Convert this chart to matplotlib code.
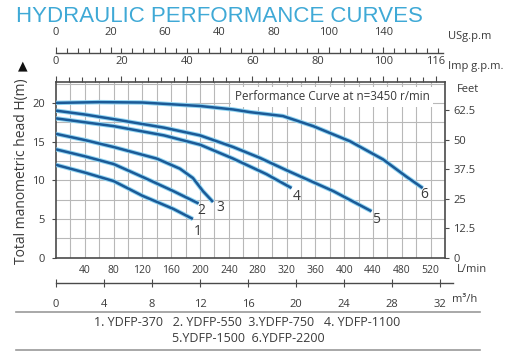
import numpy as np
import matplotlib
matplotlib.use("Agg")
import matplotlib.pyplot as plt
import matplotlib.patheffects as pe

# ---- data (flow in L/min, head in m) ----
q1 = [0, 40, 80, 120, 163, 190]
h1 = [12.0, 11.0, 9.9, 8.0, 6.3, 5.0]
q2 = [0, 40, 80, 121, 163, 198]
h2 = [14.0, 13.1, 12.1, 10.4, 8.6, 7.0]
q3 = [0, 40, 80, 140, 172, 190, 204, 218]
h3 = [16.0, 15.2, 14.3, 12.8, 11.5, 10.3, 8.6, 7.2]
q4 = [0, 40, 80, 150, 200, 246, 292, 327]
h4 = [18.0, 17.5, 17.0, 15.8, 14.6, 12.8, 10.8, 9.0]
q5 = [0, 40, 80, 150, 200, 246, 283, 320, 385, 438]
h5 = [19.0, 18.5, 17.9, 16.8, 15.8, 14.3, 12.9, 11.3, 8.6, 6.0]
q6 = [0, 60, 120, 200, 246, 270, 315, 357, 408, 454, 486, 509]
h6 = [20.0, 20.1, 20.05, 19.6, 19.15, 18.8, 18.3, 17.0, 15.05, 12.7, 10.5, 9.0]
curves = [(q1, h1, "1"), (q2, h2, "2"), (q3, h3, "3"),
          (q4, h4, "4"), (q5, h5, "5"), (q6, h6, "6")]
label_offsets = [(5, -13), (3, -7), (7, -6), (5, -8), (5, -8), (2, -6)]

lmin_ticks = [40, 80, 120, 160, 200, 240, 280, 320, 360, 400, 440, 480, 520]
m3h_ticks = [0, 4, 8, 12, 16, 20, 24, 28, 32]
imp_ticks = [0, 20, 40, 60, 80, 100, 116]
us_ticks = [0, 20, 40, 60, 80, 100, 120]
us_labels = ["0", "20", "60", "40", "80", "100", "140"]
head_ticks = [0, 5, 10, 15, 20]
feet_ticks = [0, 12.5, 25, 37.5, 50, 62.5]
legend_line1 = "1. YDFP-370   2. YDFP-550  3.YDFP-750   4. YDFP-1100"
legend_line2 = "5.YDFP-1500  6.YDFP-2200"

XMAX = 540.0
YMAX = 22.7
FONT = "Open Sans"
TXT = "#3a3a3a"

W, H = 512, 354
fig = plt.figure(figsize=(W / 100, H / 100), dpi=100)

def frac(x0, y0, x1, y1):
    return [x0 / W, 1 - y1 / H, (x1 - x0) / W, (y1 - y0) / H]

ax = fig.add_axes(frac(56, 82, 445, 257.7))
ax.set_xlim(0, XMAX)
ax.set_ylim(0, YMAX)
for v in np.arange(20, XMAX, 20):
    ax.axvline(v, color="#b8b8b8", lw=0.8, zorder=0)
for v in np.arange(2.5, YMAX, 2.5):
    ax.axhline(v, color="#b8b8b8", lw=0.8, zorder=0)
for s in ax.spines.values():
    s.set_color("#4a4a4a")
    s.set_linewidth(1.2)

halo = [pe.Stroke(linewidth=3.2, foreground="#8fd4f2"), pe.Normal()]
for (q, h, lab), off in zip(curves, label_offsets):
    ax.plot(q, h, color="#1b5a97", lw=1.8, solid_capstyle="butt",
            path_effects=halo, zorder=3)
    ax.annotate(lab, (q[-1], h[-1]), xytext=off, textcoords="offset pixels",
                ha="center", va="center", fontsize=10, color=TXT,
                family=FONT, zorder=4)

ax.text(0.46, 0.915, "Performance Curve at n=3450 r/min", transform=ax.transAxes,
        ha="left", va="center", fontsize=8.4, color=TXT, family=FONT,
        bbox=dict(facecolor="white", edgecolor="none", pad=2.5), zorder=5)

# bottom L/min
ax.set_xticks(lmin_ticks)
ax.set_xticklabels([str(t) for t in lmin_ticks])
ax.tick_params(axis="x", bottom=True, top=False, length=0, pad=5,
               labelsize=7.5, labelcolor=TXT)
ax.set_yticks(head_ticks)
ax.tick_params(axis="y", length=3, width=0.8, color="#4a4a4a", pad=5,
               labelsize=8, labelcolor=TXT)
for t in ax.get_xticklabels() + ax.get_yticklabels():
    t.set_family(FONT)

# right axis in feet
axr = ax.twinx()
axr.set_ylim(0, YMAX * 3.28084)
axr.set_yticks(feet_ticks)
axr.set_yticklabels(["0", "12.5", "25", "37.5", "50", "62.5"])
axr.tick_params(axis="y", length=3, width=0.8, color="#4a4a4a", pad=3,
                labelsize=8, labelcolor=TXT)
for t in axr.get_yticklabels():
    t.set_family(FONT)
for s in axr.spines.values():
    s.set_visible(False)
fig.text(468 / W, 1 - 89 / H, "Feet", ha="center", va="center", fontsize=8,
         color=TXT, family=FONT)

# top Imp g.p.m. on the top spine
imp = ax.secondary_xaxis("top", functions=(lambda x: x / 4.546, lambda x: x * 4.546))
imp.set_xticks(imp_ticks)
imp.set_xticks(np.arange(0, 117, 4), minor=True)
imp.tick_params(which="major", length=4.5, width=0.8, color="#4a4a4a", pad=6,
                labelsize=8, labelcolor=TXT)
imp.tick_params(which="minor", length=3.5, width=0.8, color="#4a4a4a")
imp.spines["top"].set_visible(False)
for t in imp.get_xticklabels():
    t.set_family(FONT)
fig.text(448 / W, 1 - 66 / H, "Imp g.p.m.", ha="left", va="center", fontsize=8,
         color=TXT, family=FONT)

# USg.p.m. axis
axu = fig.add_axes(frac(56, 53, 443, 53.01))
axu.set_xlim(0, (443 - 56) / (389 / XMAX) / 3.785)
axu.set_ylim(0, 1)
axu.patch.set_visible(False)
for k in ["left", "right", "bottom"]:
    axu.spines[k].set_visible(False)
axu.spines["top"].set_color("#4a4a4a")
axu.spines["top"].set_linewidth(1.0)
axu.set_yticks([])
axu.xaxis.set_ticks_position("top")
axu.set_xticks(us_ticks)
axu.set_xticklabels(us_labels)
axu.set_xticks(np.arange(0, 143, 4), minor=True)
axu.tick_params(axis="x", which="major", direction="out", length=4.5, width=0.8,
                color="#4a4a4a", pad=6, labelsize=8, labelcolor=TXT)
axu.tick_params(axis="x", which="minor", direction="out", length=3.5, width=0.8,
                color="#4a4a4a")
for t in axu.get_xticklabels():
    t.set_family(FONT)
fig.text(448 / W, 1 - 37 / H, "USg.p.m", ha="left", va="center", fontsize=8,
         color=TXT, family=FONT)

# m3/h axis
axm = fig.add_axes(frac(56, 283.29, 453, 283.3))
axm.set_xlim(0, (453 - 56) / (389 / XMAX) * 0.06)
axm.set_ylim(0, 1)
axm.patch.set_visible(False)
for k in ["left", "right", "top"]:
    axm.spines[k].set_visible(False)
axm.spines["bottom"].set_color("#4a4a4a")
axm.spines["bottom"].set_linewidth(1.0)
axm.set_yticks([])
axm.set_xticks(m3h_ticks)
axm.tick_params(axis="x", direction="inout", length=6, width=0.8,
                color="#4a4a4a", pad=8, labelsize=8, labelcolor=TXT)
for t in axm.get_xticklabels():
    t.set_family(FONT)
fig.text(472 / W, 1 - 270 / H, "L/min", ha="center", va="center", fontsize=8,
         color=TXT, family=FONT)
fig.text(465 / W, 1 - 299 / H, "m³/h", ha="center", va="center", fontsize=8,
         color=TXT, family=FONT)

# y label and arrow
fig.text(22 / W, 1 - 171 / H, "Total manometric head H(m)", rotation=90,
         ha="center", va="center", fontsize=10, color=TXT, family=FONT)
fig.text(23 / W, 1 - 66 / H, "▲", ha="center", va="center", fontsize=9,
         color="#111111", family="DejaVu Sans")

# title
fig.text(16 / W, 1 - 16 / H, "HYDRAULIC PERFORMANCE CURVES", ha="left",
         va="center", fontsize=16, color="#3fa9d6", family="Liberation Sans")

# legend block with rules
for y in (311.5, 350):
    fig.add_artist(plt.Line2D([16 / W, 480 / W], [1 - y / H, 1 - y / H],
                              color="#9a9a9a", lw=1.2))
fig.text(247 / W, 1 - 322 / H, legend_line1, ha="center", va="center",
         fontsize=9, color=TXT, family=FONT)
fig.text(248 / W, 1 - 339 / H, legend_line2, ha="center", va="center",
         fontsize=9, color=TXT, family=FONT)

fig.savefig("out.png", dpi=100)
